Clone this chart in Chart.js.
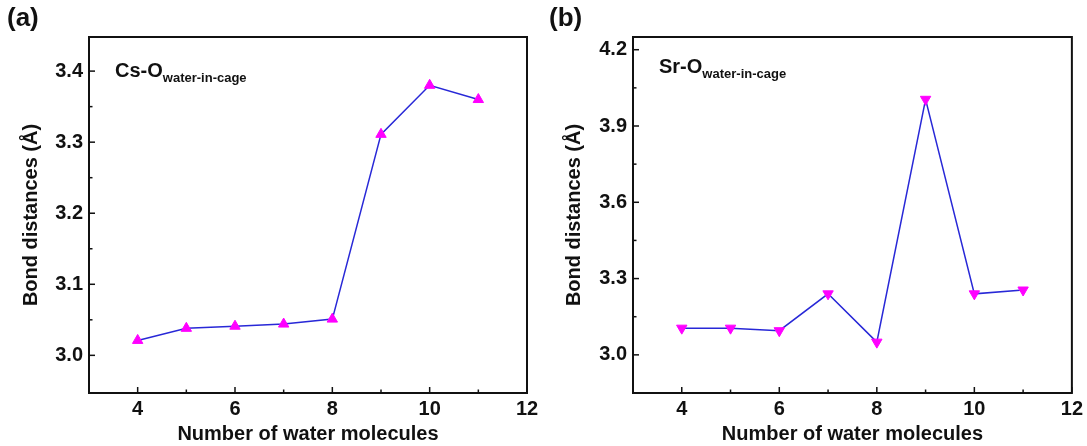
<!DOCTYPE html>
<html lang="en">
<head>
<meta charset="UTF-8">
<title>Bond distances</title>
<script src="https://cdn.jsdelivr.net/npm/chart.js"></script>
<style>
  body { margin: 0; background: #fff; font-family: "Liberation Sans", Arial, sans-serif; }
  .painel { position: absolute; top: 0; width: 543px; height: 446px; }
  .letra { position: absolute; font-weight: bold; font-size: 26px; color: #111; }
  .anot { position: absolute; font-weight: bold; font-size: 20px; color: #111; white-space: nowrap; }
  .anot sub { font-size: 13px; vertical-align: -5px; }
</style>
</head>
<body>
  <div class="painel" style="left:0">
    <canvas id="graficoA" width="543" height="446"></canvas>
  </div>
  <div class="painel" style="left:543px; width:544px">
    <canvas id="graficoB" width="544" height="446"></canvas>
  </div>
  <div class="letra" style="left:7px; top:2px">(a)</div>
  <div class="letra" style="left:549px; top:2px">(b)</div>
  <div class="anot" style="left:115px; top:59px">Cs-O<sub>water-in-cage</sub></div>
  <div class="anot" style="left:659px; top:55px">Sr-O<sub>water-in-cage</sub></div>

<script>
// dados
const numAgua = [4, 5, 6, 7, 8, 9, 10, 11];
const distCsO = [3.021, 3.038, 3.041, 3.044, 3.051, 3.311, 3.380, 3.360];
const distSrO = [3.105, 3.105, 3.095, 3.240, 3.050, 4.005, 3.240, 3.255];

// ticks principais (com rótulo) e secundários
const xTicks = [4, 6, 8, 10, 12];
const xMenores = [5, 7, 9, 11];
const yTicksA = [3.0, 3.1, 3.2, 3.3, 3.4];
const yMenoresA = [3.05, 3.15, 3.25, 3.35];
const yTicksB = [3.0, 3.3, 3.6, 3.9, 4.2];
const yMenoresB = [3.15, 3.45, 3.75, 4.05];

const fonte = { family: '"Liberation Sans", Arial, sans-serif', size: 20, weight: 'bold' };

function ehMaior(v, lista) {
  return lista.some(t => Math.abs(t - v) < 1e-6);
}

// moldura fechada + ticks para dentro
const moldura = {
  id: 'moldura',
  afterDraw(chart) {
    const { ctx, chartArea: a } = chart;
    const op = chart.options.plugins.moldura;
    const xs = chart.scales.x, ys = chart.scales.y;
    ctx.save();
    ctx.strokeStyle = '#111';
    ctx.lineWidth = 2;
    ctx.strokeRect(a.left, a.top, a.right - a.left, a.bottom - a.top);
    ctx.lineWidth = 1.5;
    xs.ticks.forEach(t => {
      const len = ehMaior(t.value, op.x) ? 6 : 3.5;
      const px = xs.getPixelForValue(t.value);
      ctx.beginPath(); ctx.moveTo(px, a.bottom); ctx.lineTo(px, a.bottom - len); ctx.stroke();
    });
    ys.ticks.forEach(t => {
      const len = ehMaior(t.value, op.y) ? 6 : 3.5;
      const py = ys.getPixelForValue(t.value);
      ctx.beginPath(); ctx.moveTo(a.left, py); ctx.lineTo(a.left + len, py); ctx.stroke();
    });
    ctx.restore();
  }
};

function montaGrafico(id, valores, yMin, yMax, yMaiores, yMenores, rot, larguraY, alturaX, padDir) {
  const pontos = numAgua.map((n, i) => ({ x: n, y: valores[i] }));
  const todosX = xTicks.concat(xMenores).sort((a, b) => a - b);
  const todosY = yMaiores.concat(yMenores).sort((a, b) => a - b);
  return new Chart(document.getElementById(id), {
    type: 'line',
    data: {
      datasets: [{
        data: pontos,
        borderColor: 'rgb(40, 40, 215)',
        borderWidth: 1.5,
        pointStyle: 'triangle',
        rotation: rot,
        pointRadius: 6,
        pointBackgroundColor: '#ff00ff',
        pointBorderColor: '#ff00ff',
        pointBorderWidth: 1,
        tension: 0
      }]
    },
    options: {
      responsive: false,
      animation: false,
      layout: { padding: { top: 37, right: padDir, left: 0, bottom: 0 } },
      plugins: { legend: { display: false }, tooltip: { enabled: false }, moldura: { x: xTicks, y: yMaiores } },
      scales: {
        x: {
          type: 'linear', min: 3, max: 12,
          afterBuildTicks(s) { s.ticks = todosX.map(v => ({ value: v })); },
          afterFit(s) { s.height = alturaX; },
          border: { display: true, color: '#111', width: 2 },
          grid: { display: false, drawTicks: false, tickLength: 0 },
          ticks: {
            padding: 4, color: '#111', font: fonte, maxRotation: 0, autoSkip: false,
            callback: v => ehMaior(v, xTicks) ? String(v) : ''
          },
          title: { display: true, text: 'Number of water molecules', color: '#111', font: fonte, padding: { top: 0, bottom: 0 } }
        },
        y: {
          type: 'linear', min: yMin, max: yMax,
          afterBuildTicks(s) { s.ticks = todosY.map(v => ({ value: v })); },
          afterFit(s) { s.width = larguraY; },
          border: { display: true, color: '#111', width: 2 },
          grid: { display: false, drawTicks: false, tickLength: 0 },
          ticks: {
            padding: 6, color: '#111', font: fonte, autoSkip: false,
            callback: v => ehMaior(v, yMaiores) ? v.toFixed(1) : ''
          },
          title: { display: true, text: 'Bond distances (Å)', color: '#111', font: fonte, padding: { top: 19, bottom: 0 } }
        }
      }
    },
    plugins: [moldura]
  });
}

montaGrafico('graficoA', distCsO, 2.947, 3.448, yTicksA, yMenoresA, 0, 89, 53, 16);
montaGrafico('graficoB', distSrO, 2.85, 4.25, yTicksB, yMenoresB, 180, 90, 53, 12);
</script>
</body>
</html>
